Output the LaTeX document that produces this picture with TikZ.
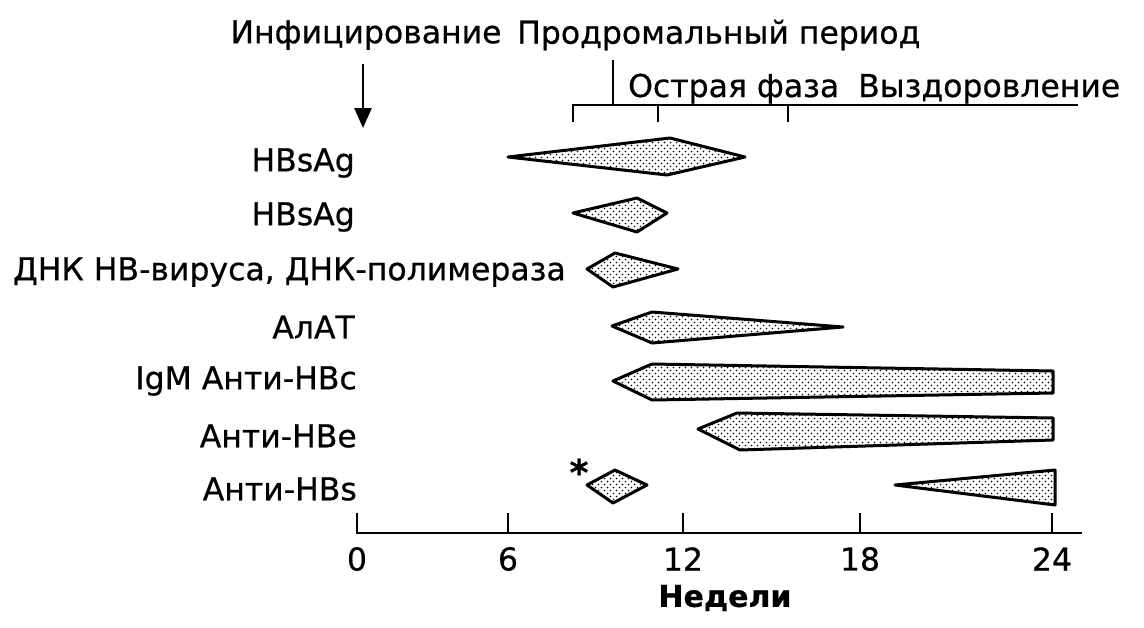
\documentclass[tikz,border=0pt]{standalone}
\usepackage{fontspec}
\setmainfont{DejaVu Sans}[FakeBold=0.6]
\usetikzlibrary{arrows.meta,patterns}

\pgfdeclarepatternformonly{stipple}{\pgfpoint{-1pt}{-1pt}}{\pgfpoint{7pt}{7pt}}{\pgfpoint{6pt}{6pt}}{
  \pgfpathcircle{\pgfpoint{1.5pt}{1.5pt}}{0.85pt}
  \pgfpathcircle{\pgfpoint{4.5pt}{4.5pt}}{0.85pt}
  \pgfusepath{fill}}

\tikzset{
  txt/.style={inner sep=0pt,font=\fontsize{31.5}{36}\selectfont},
  lbl/.style={txt,anchor=east},
  band/.style={draw,line width=3pt,line join=round,pattern=stipple},
  rule/.style={line width=2.6pt},
}

\begin{document}
\begin{tikzpicture}[x=1pt,y=-1pt]
\useasboundingbox (0,0) rectangle (1144,627);

\node[txt] (inf) at (366,35) {Инфицирование};
\node[txt,anchor=west] (prod) at (517,35) {Продромальный период};
\coordinate (infend) at (363,128);
\draw[rule,-{Triangle[width=17pt,length=20pt]}] (inf.south -| infend) ++(0,14) -- (infend);

\draw[rule] (613,60) -- (613,105);
\draw[rule] (573,122) -- (573,105) -- (1078,105);
\draw[rule] (658,105) -- (658,122);
\draw[rule] (788,105) -- (788,122);
\node[txt,anchor=base west] (acute) at (628,97) {Острая фаза};
\node[txt,anchor=base west] (recov) at (858,97) {Выздоровление};

\node[lbl] (hbs1) at (355,163) {HBsAg};
\node[lbl] (hbs2) at (355,217) {HBsAg};
\node[lbl] (dna) at (566,272) {ДНК НВ-вируса, ДНК-полимераза};
\node[lbl] (alt) at (355,327) {АлАТ};
\node[lbl] (igm) at (357,381) {IgM Анти-HBc};
\node[lbl] (hbe) at (357,436) {Анти-HBe};
\node[lbl] (ahbs) at (357,489) {Анти-HBs};

\draw[band] (508,157) -- (670,138) -- (745,157) -- (667,175) -- cycle;
\draw[band] (573,213) -- (637,198) -- (667,213) -- (637,232) -- cycle;
\draw[band] (587,269) -- (615,253) -- (678,269) -- (613,287) -- cycle;
\draw[band] (612,326) -- (652,312) -- (843,327) -- (652,343) -- cycle;
\draw[band] (613,381) -- (652,364) -- (1053,371) -- (1053,393) -- (652,400) -- cycle;
\draw[band] (698,429) -- (737,413) -- (1053,418) -- (1053,440) -- (740,450) -- cycle;
\draw[band] (587,485) -- (615,470) -- (647,485) -- (613,503) -- cycle;
\draw[band] (895,485) -- (1055,470) -- (1055,505) -- cycle;
\node[txt,font=\fontsize{36}{36}\selectfont\bfseries] (star) at (579,472) {*};

\draw[rule] (357,513) -- (357,533) -- (1082,533);
\foreach \x/\n in {357/0,508/6,683/12,860/18,1052/24}{
  \draw[rule] (\x,513) -- (\x,533);
  \node[txt] (t\n) at (\x,559) {\n};
}
\node[txt,font=\fontsize{30}{36}\selectfont\bfseries] (weeks) at (725,598) {Недели};
\end{tikzpicture}
\end{document}
